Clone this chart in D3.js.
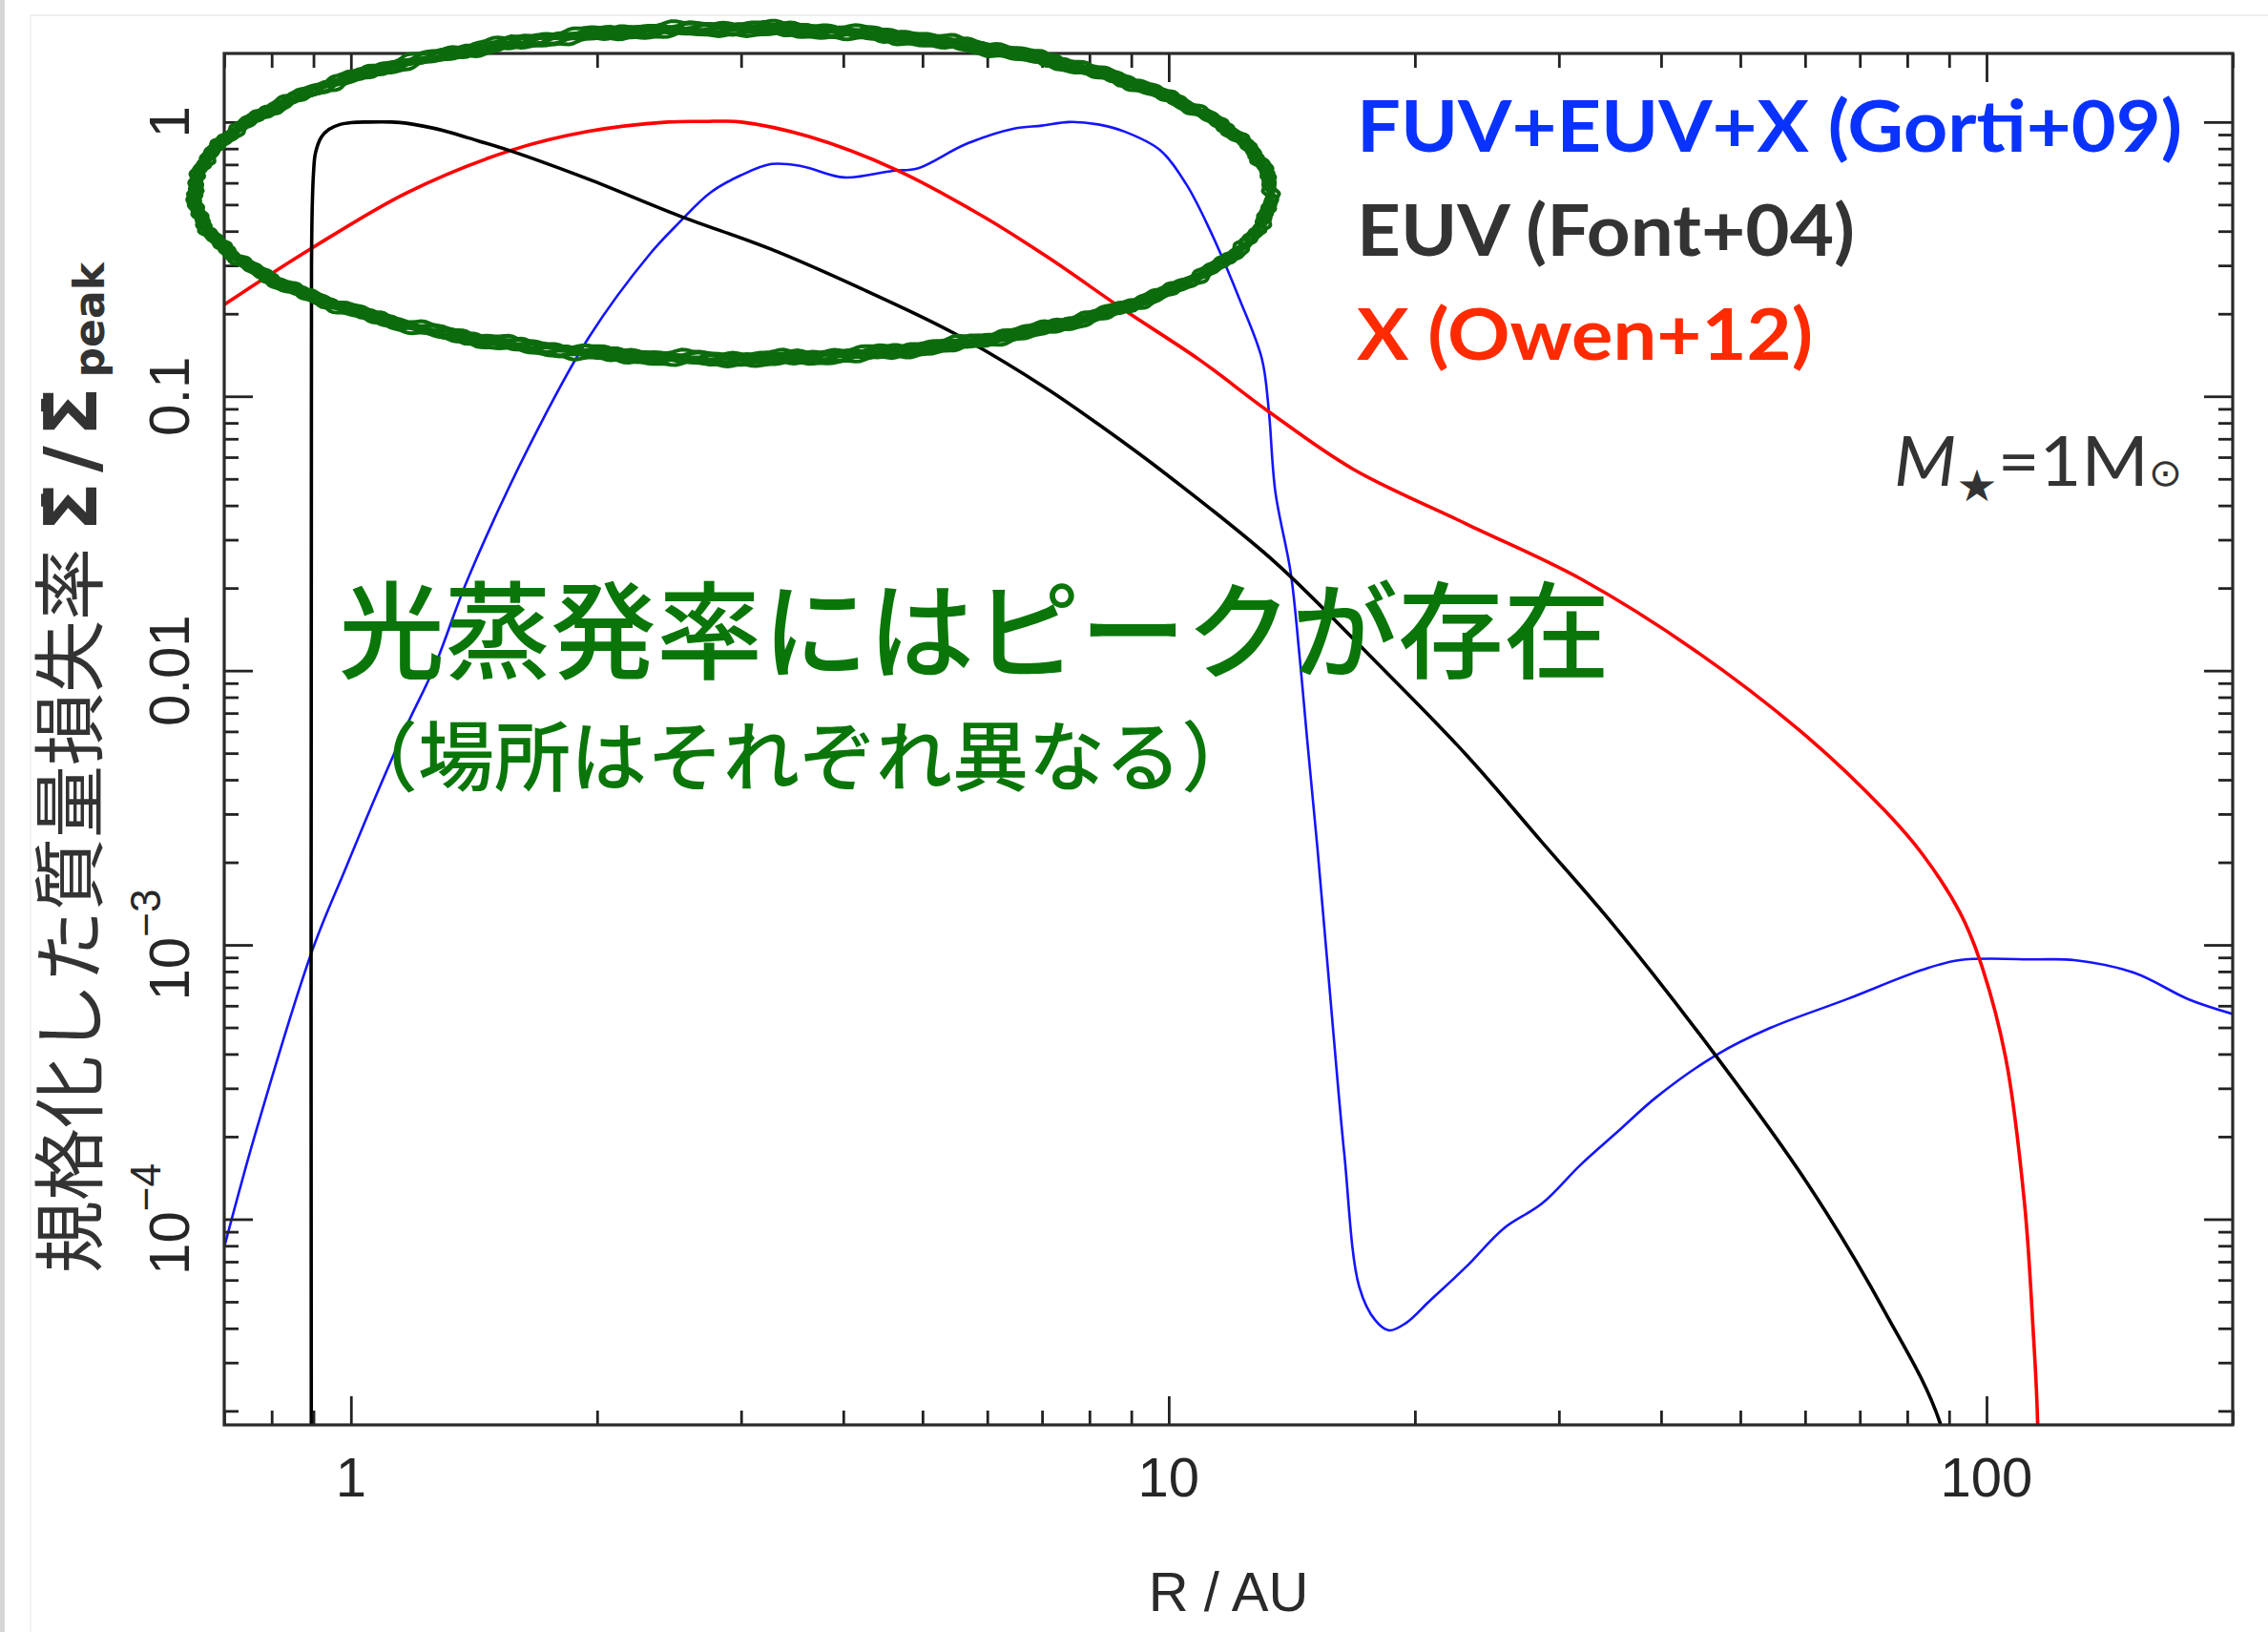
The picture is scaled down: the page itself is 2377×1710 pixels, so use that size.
<!DOCTYPE html>
<html><head><meta charset="utf-8">
<script src="https://cdn.jsdelivr.net/npm/d3@7"></script>
<style>html,body{margin:0;padding:0;background:#fff;} svg{display:block;}</style>
</head><body>
<script>
// ---------- data ----------
// EUV (Font+04) – black
const euvR = [0.895, 0.895, 0.897, 0.90, 0.905, 0.92, 0.94, 0.97, 1.0, 1.05, 1.12, 1.17, 1.3, 1.39, 1.565, 1.954, 2.52, 3.27, 4.22, 5.46, 7.05, 8.36, 9.83, 13.5, 17.9, 23.1, 28.6, 35.0, 46.8, 60.5, 75.0, 87.9, 95.0];
const euvV = [1e-6, 0.3, 0.5, 0.65, 0.77, 0.88, 0.94, 0.98, 0.995, 1.0, 1.0, 0.99, 0.93, 0.876, 0.786, 0.618, 0.455, 0.343, 0.246, 0.17, 0.108, 0.076, 0.0532, 0.0248, 0.0108, 0.00494, 0.00237, 0.00118, 3.9e-4, 1.34e-4, 4.63e-5, 1.78e-5, 5e-6];
// X (Owen+12) – red
const xrayR = [0.7, 0.889, 1.17, 1.565, 1.954, 2.44, 2.7, 3.0, 3.63, 4.64, 5.95, 7.13, 8.83, 10.9, 13.25, 16.8, 23.1, 31.9, 43.9, 60.5, 75.0, 83.4, 92.7, 98.0, 105.5, 111.3, 114.0, 115.5, 116.0];
const xrayV = [0.216, 0.342, 0.552, 0.786, 0.925, 1.0, 1.005, 1.0, 0.885, 0.67, 0.45, 0.32, 0.206, 0.136, 0.088, 0.0543, 0.0343, 0.0216, 0.0119, 0.0057, 0.0031, 0.00215, 0.00132, 8.9e-4, 3.9e-4, 1.14e-4, 4e-5, 1.78e-5, 1e-6];
// FUV+EUV+X (Gorti+09) – blue
const fuvR = [0.7, 0.763, 0.897, 0.986, 1.074, 1.17, 1.263, 1.39, 1.65, 1.954, 2.32, 2.52, 2.75, 3.0, 3.27, 3.56, 4.01, 4.6, 4.93, 5.64, 6.47, 7.0, 7.55, 8.2, 8.83, 9.76, 10.5, 11.2, 12.2, 13.0, 13.25, 13.5, 14.1, 14.45, 14.76, 15.2, 15.9, 16.4, 17.1, 17.9, 18.6, 19.5, 20.8, 23.1, 25.7, 28.6, 31.9, 35.5, 39.5, 46.8, 54.4, 67.4, 83.4, 92.7, 115, 128, 151.8, 176.5, 200];
const fuvV = [7.9e-5, 2.02e-4, 9.55e-4, 1.91e-3, 3.52e-3, 6.3e-3, 0.0102, 0.0216, 0.0653, 0.164, 0.33, 0.43, 0.552, 0.64, 0.703, 0.69, 0.628, 0.664, 0.677, 0.829, 0.946, 0.97, 1.0, 0.98, 0.923, 0.79, 0.595, 0.411, 0.227, 0.137, 0.09, 0.045, 0.0227, 0.0114, 0.0057, 0.00226, 4.76e-4, 1.71e-4, 5.67e-5, 4.27e-5, 3.93e-5, 4.18e-5, 5.0e-5, 6.7e-5, 9.27e-5, 1.14e-4, 1.58e-4, 2.1e-4, 2.79e-4, 3.98e-4, 4.98e-4, 6.33e-4, 8.1e-4, 8.8e-4, 8.85e-4, 8.8e-4, 7.9e-4, 6.34e-4, 5.6e-4];

// ticks
const xMajor = [1, 10, 100];
const xMajorLabels = ["1", "10", "100"];
const xMinor = [0.7, 0.8, 0.9, 2, 3, 4, 5, 6, 7, 8, 9, 20, 30, 40, 50, 60, 70, 80, 90, 200];
const yMajor = [1, 0.1, 0.01, 1e-3, 1e-4];
const yLabelBase = ["1", "0.1", "0.01", "10", "10"];
const yLabelExp = ["", "", "", "\u22123", "\u22124"];
const yMinor = [];
[1e-5, 1e-4, 1e-3, 1e-2, 1e-1, 1].forEach(d => [2,3,4,5,6,7,8,9].forEach(m => yMinor.push(d*m)));

// legend text
const legendText = ["FUV+EUV+X (Gorti+09)", "EUV (Font+04)", "X (Owen+12)"];
const legendColor = ["#0a32ff", "#333333", "#ff2a00"];
const legendLen = [865, 522, 478];
const lineColor = {euv: "#000000", xray: "#ff0000", fuv: "#1414ff"};

// ---------- layout ----------
const W = 2377, H = 1710;
const L = 235, R = 2340, T = 56, B = 1493;
const svg = d3.select("body").append("svg").attr("width", W).attr("height", H);
svg.append("rect").attr("width", W).attr("height", H).attr("fill", "#fff");
// slide frame remnants
svg.append("rect").attr("x", 0).attr("y", 0).attr("width", 5).attr("height", H).attr("fill", "#d6d6d6");
svg.append("line").attr("x1", 32).attr("x2", W).attr("y1", 16).attr("y2", 16).attr("stroke", "#eeeeee").attr("stroke-width", 2);
svg.append("line").attr("x1", 32).attr("x2", 32).attr("y1", 16).attr("y2", H).attr("stroke", "#f3f3f3").attr("stroke-width", 2);

const x = d3.scaleLog().domain([0.7, 200]).range([L, R]);
const y = d3.scaleLog().domain([Math.pow(10, -4.75), Math.pow(10, 0.25)]).range([B, T]);

svg.append("defs").append("clipPath").attr("id", "clip")
  .append("rect").attr("x", L).attr("y", T).attr("width", R - L).attr("height", B - T);

// ---------- curves ----------
const line = d3.line().x(d => x(d[0])).y(d => y(d[1])).curve(d3.curveCatmullRom.alpha(0.5));
const gC = svg.append("g").attr("clip-path", "url(#clip)");
gC.append("path").datum(fuvR.map((r, i) => [r, fuvV[i]])).attr("d", line)
  .attr("fill", "none").attr("stroke", lineColor.fuv).attr("stroke-width", 2.6).attr("stroke-linejoin", "round");
gC.append("path").datum(xrayR.map((r, i) => [r, xrayV[i]])).attr("d", line)
  .attr("fill", "none").attr("stroke", lineColor.xray).attr("stroke-width", 3.6);
gC.append("path").datum(euvR.map((r, i) => [r, euvV[i]])).attr("d", line)
  .attr("fill", "none").attr("stroke", lineColor.euv).attr("stroke-width", 3.6).attr("stroke-linejoin", "round");

// ---------- axes ----------
function styleAxis(g) {
  g.select(".domain").remove();
  g.selectAll("line").attr("stroke", "#222").attr("stroke-width", 2.8);
  g.selectAll("text").remove();
}
const mk = [
  [d3.axisBottom, `translate(0,${B})`, x, xMajor, 30], [d3.axisBottom, `translate(0,${B})`, x, xMinor, 15],
  [d3.axisTop, `translate(0,${T})`, x, xMajor, 30], [d3.axisTop, `translate(0,${T})`, x, xMinor, 15],
  [d3.axisLeft, `translate(${L},0)`, y, yMajor, 30], [d3.axisLeft, `translate(${L},0)`, y, yMinor, 15],
  [d3.axisRight, `translate(${R},0)`, y, yMajor, 30], [d3.axisRight, `translate(${R},0)`, y, yMinor, 15]
];
mk.forEach(([fn, tr, sc, vals, len]) => {
  const v = vals.filter(d => d >= sc.domain()[0] * 0.999 && d <= sc.domain()[1] * 1.001);
  svg.append("g").attr("transform", tr).call(fn(sc).tickValues(v).tickSize(-len).tickFormat("")).call(styleAxis);
});
svg.append("rect").attr("x", L).attr("y", T).attr("width", R - L).attr("height", B - T)
  .attr("fill", "none").attr("stroke", "#2a2a2a").attr("stroke-width", 3.2);

// tick labels
const tickFont = "'Liberation Sans', Arial, sans-serif";
svg.append("g").selectAll("text").data(xMajor).join("text")
  .attr("x", d => x(d)).attr("y", 1568).attr("text-anchor", "middle")
  .attr("font-family", tickFont).attr("font-size", 58).attr("fill", "#262626")
  .text((d, i) => xMajorLabels[i]);
const yl = svg.append("g").selectAll("text").data(yMajor).join("text")
  .attr("transform", d => `translate(198,${y(d)}) rotate(-90)`).attr("text-anchor", "middle")
  .attr("font-family", tickFont).attr("font-size", 60).attr("fill", "#262626");
yl.append("tspan").text((d, i) => yLabelBase[i]);
yl.append("tspan").attr("font-size", 44).attr("dy", -30).text((d, i) => yLabelExp[i]);

// axis titles
svg.append("text").attr("x", (L + R) / 2).attr("y", 1688).attr("text-anchor", "middle")
  .attr("font-family", tickFont).attr("font-size", 58).attr("fill", "#2a2a2a").text("R / AU");

const yt = svg.append("text").attr("transform", "translate(101,1334) rotate(-90)")
  .attr("fill", "#333");
yt.append("tspan").attr("font-family", "'Noto Sans CJK JP', sans-serif").attr("font-size", 76).text("規格化した質量損失率 ");
yt.append("tspan").attr("font-family", "'DejaVu Sans', sans-serif").attr("font-weight", "bold").attr("font-size", 76).attr("letter-spacing", 10).text("\u03A3\u0307/\u03A3\u0307");
yt.append("tspan").attr("font-family", "'DejaVu Sans', sans-serif").attr("font-weight", "bold").attr("font-size", 44).attr("dy", 8).text("peak");

// ---------- legend ----------
const legendY = [159, 268, 377];
svg.append("g").selectAll("text").data(legendText).join("text")
  .attr("x", 1422).attr("y", (d, i) => legendY[i])
  .attr("font-family", "Lato, 'Open Sans', sans-serif").attr("font-weight", "bold").attr("font-size", 75)
  .attr("fill", (d, i) => legendColor[i])
  .attr("textLength", (d, i) => legendLen[i]).attr("lengthAdjust", "spacingAndGlyphs")
  .text(d => d);

const mt = svg.append("text").attr("x", 1985).attr("y", 509).attr("fill", "#333")
  .attr("font-family", "Lato, 'DejaVu Sans', sans-serif").attr("font-size", 72)
  .attr("textLength", 302).attr("lengthAdjust", "spacingAndGlyphs");
mt.append("tspan").attr("font-style", "italic").text("M");
mt.append("tspan").attr("font-family", "'DejaVu Sans', sans-serif").attr("font-size", 46).attr("dy", 16).text("\u2605");
mt.append("tspan").attr("dy", -16).text("=1M");
mt.append("tspan").attr("font-family", "'DejaVu Sans', sans-serif").attr("font-size", 40).text("\u2299");

// ---------- annotation ----------
const green = "#0a760a";
svg.append("text").attr("x", 355).attr("y", 703).attr("fill", green)
  .attr("font-family", "'Noto Sans CJK JP', sans-serif").attr("font-weight", 500).attr("font-size", 111)
  .text("光蒸発率にはピークが存在");
svg.append("text").attr("x", 358).attr("y", 822).attr("fill", green)
  .attr("font-family", "'Noto Sans CJK JP', sans-serif").attr("font-weight", 500).attr("font-size", 80)
  .text("（場所はそれぞれ異なる）");

// hand-drawn ellipse (rough marker band)
const ellCx = 768, ellCy = 203, ellRx = 564, ellRy = 173;
const strokes = [[0.0, -6, 4], [1.1, -4, 5], [2.3, -2, 5], [3.4, 0, 6], [4.6, 2, 5], [5.7, 4, 5], [0.7, 6, 4]];
strokes.forEach(([ph, off, w]) => {
  const pts = d3.range(0, 720).map(i => {
    const t = i * Math.PI / 360;
    const n = 1.4 * Math.sin(37 * t + ph) + 1.0 * Math.sin(71 * t + 2 * ph) + 0.8 * Math.sin(131 * t + 3 * ph);
    return [ellCx + (ellRx + off + n) * Math.cos(t), ellCy + (ellRy + off + n) * Math.sin(t)];
  });
  svg.append("path").attr("d", d3.line().curve(d3.curveLinearClosed)(pts))
    .attr("fill", "none").attr("stroke", "#0c6b0c").attr("stroke-width", w);
});
</script>
</body></html>
